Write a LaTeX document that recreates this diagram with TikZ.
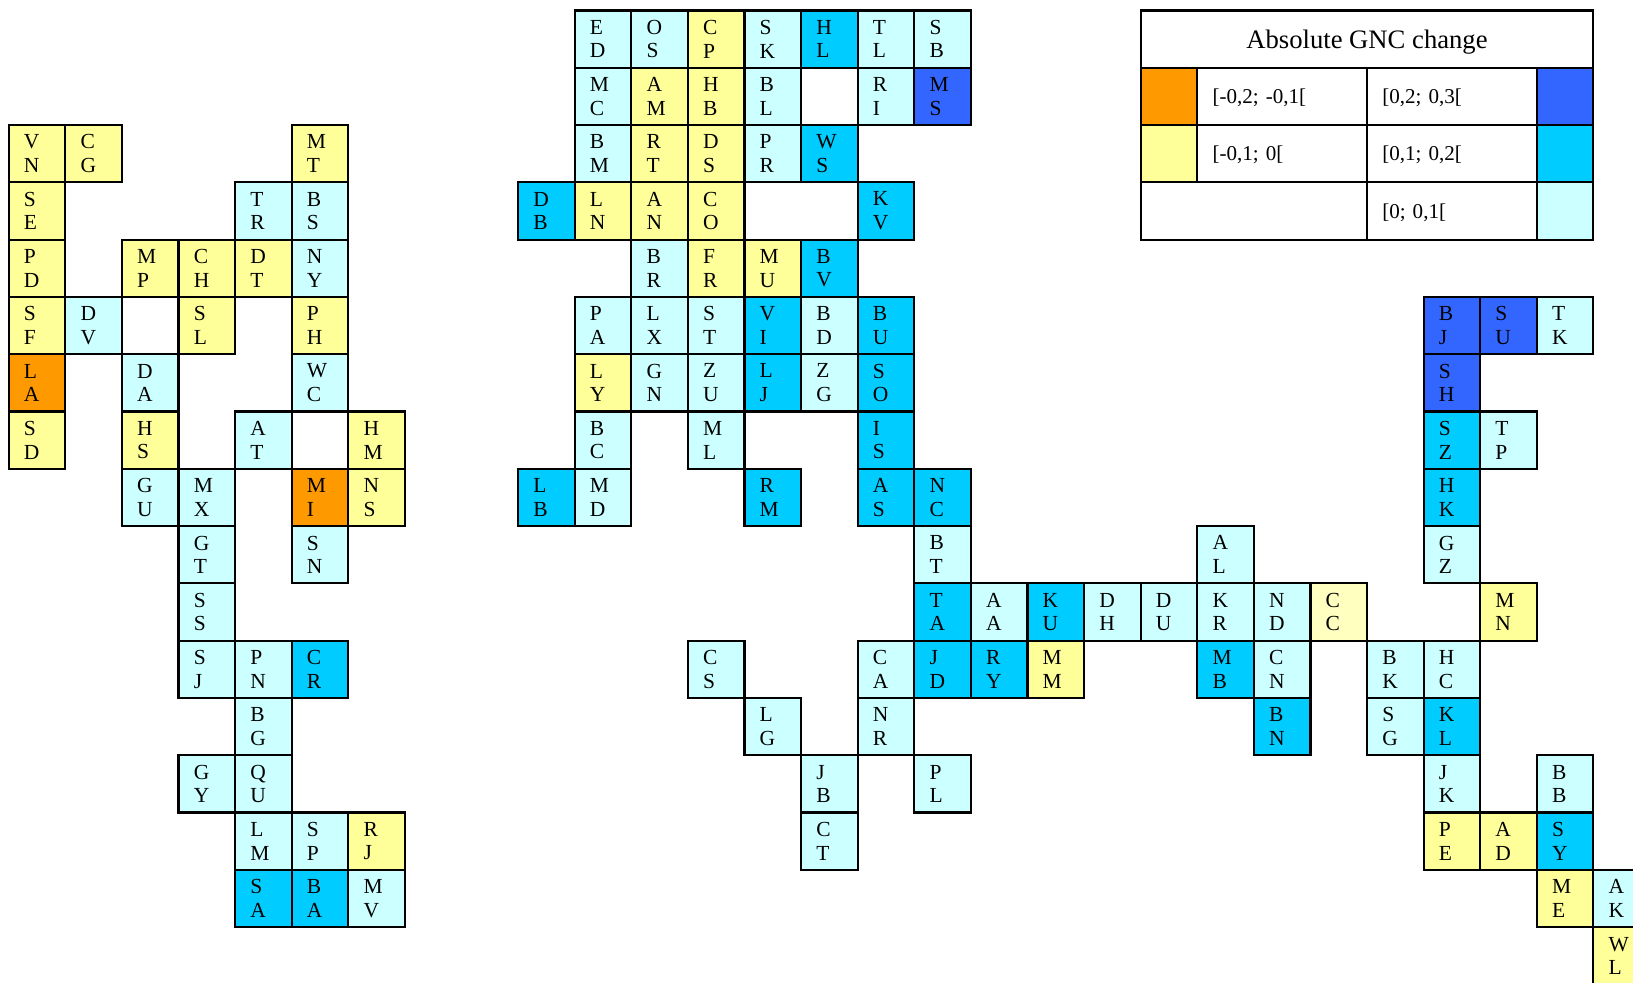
\documentclass[tikz,border=0pt]{standalone}
\usepackage{fontspec}
\setmainfont{Liberation Serif}
\definecolor{gncOrange}{HTML}{FF9900}
\definecolor{gncYellow}{HTML}{FFFF99}
\definecolor{gncPale}{HTML}{FFFFC0}
\definecolor{gncLight}{HTML}{CCFFFF}
\definecolor{gncCyan}{HTML}{00CCFF}
\definecolor{gncBlue}{HTML}{3366FF}

\begin{document}
\begin{tikzpicture}[x=1cm, y=-1.0124cm,
    cell/.style={draw, line width=1.1pt, minimum width=1cm, minimum height=1.0124cm,
      text width=0.46cm, inner xsep=0.27cm, inner ysep=0pt, align=left,
      font=\fontsize{10.8}{11.9}\selectfont},
    legbox/.style={draw, line width=1.1pt, minimum height=1.0124cm, inner xsep=0.27cm,
      inner ysep=0pt, text depth=0pt, font=\fontsize{10.6}{12}\selectfont}]
  \useasboundingbox (-0.154,-0.1815) rectangle (28.70,16.97);
  \foreach \cx/\ry/\a/\b in {1/5/D/V, 4/3/T/R, 5/3/B/S, 5/4/N/Y, 2/6/D/A, 5/6/W/C,
      4/7/A/T, 2/8/G/U, 3/8/M/X, 3/9/G/T, 5/9/S/N, 3/10/S/S, 3/11/S/J, 4/11/P/N,
      4/12/B/G, 3/13/G/Y, 4/13/Q/U, 4/14/L/M, 5/14/S/P, 6/15/M/V,
      10/0/E/D, 11/0/O/S, 13/0/S/K, 15/0/T/L, 16/0/S/B, 10/1/M/C, 13/1/B/L, 15/1/R/I,
      10/2/B/M, 13/2/P/R, 11/4/B/R, 10/5/P/A, 11/5/L/X, 12/5/S/T, 14/5/B/D,
      11/6/G/N, 12/6/Z/U, 14/6/Z/G, 10/7/B/C, 12/7/M/L, 10/8/M/D, 16/9/B/T,
      21/9/A/L, 25/9/G/Z, 17/10/A/A, 19/10/D/H, 20/10/D/U, 21/10/K/R, 22/10/N/D,
      12/11/C/S, 15/11/C/A, 22/11/C/N, 24/11/B/K, 25/11/H/C, 13/12/L/G, 15/12/N/R,
      24/12/S/G, 14/13/J/B, 16/13/P/L, 25/13/J/K, 27/13/B/B, 14/14/C/T, 28/15/A/K,
      27/5/T/K, 26/7/T/P}
    \node[cell, fill=gncLight] (\a\b) at (\cx+0.5,\ry+0.5) {\a\\\b};
  \foreach \cx/\ry/\a/\b in {0/2/V/N, 1/2/C/G, 5/2/M/T, 0/3/S/E, 0/4/P/D, 2/4/M/P,
      3/4/C/H, 4/4/D/T, 0/5/S/F, 3/5/S/L, 5/5/P/H, 0/7/S/D, 2/7/H/S, 6/7/H/M,
      6/8/N/S, 6/14/R/J, 12/0/C/P, 11/1/A/M, 12/1/H/B, 11/2/R/T, 12/2/D/S,
      10/3/L/N, 11/3/A/N, 12/3/C/O, 12/4/F/R, 13/4/M/U, 10/6/L/Y, 18/11/M/M,
      26/10/M/N, 25/14/P/E, 26/14/A/D, 27/15/M/E, 28/16/W/L}
    \node[cell, fill=gncYellow] (\a\b) at (\cx+0.5,\ry+0.5) {\a\\\b};
  \node[cell, fill=gncPale] (CC) at (23.5,10.5) {C\\C};
  \foreach \cx/\ry/\a/\b in {0/6/L/A, 5/8/M/I}
    \node[cell, fill=gncOrange] (\a\b) at (\cx+0.5,\ry+0.5) {\a\\\b};
  \foreach \cx/\ry/\a/\b in {5/11/C/R, 4/15/S/A, 5/15/B/A, 14/0/H/L, 14/2/W/S,
      9/3/D/B, 15/3/K/V, 14/4/B/V, 13/5/V/I, 15/5/B/U, 13/6/L/J, 15/6/S/O,
      15/7/I/S, 9/8/L/B, 13/8/R/M, 15/8/A/S, 16/8/N/C, 16/10/T/A, 18/10/K/U,
      16/11/J/D, 17/11/R/Y, 21/11/M/B, 22/12/B/N, 25/12/K/L, 27/14/S/Y,
      25/7/S/Z, 25/8/H/K}
    \node[cell, fill=gncCyan] (\a\b) at (\cx+0.5,\ry+0.5) {\a\\\b};
  \foreach \cx/\ry/\a/\b in {16/1/M/S, 25/5/B/J, 26/5/S/U, 25/6/S/H}
    \node[cell, fill=gncBlue] (\a\b) at (\cx+0.5,\ry+0.5) {\a\\\b};
  \node[legbox, minimum width=8cm, font=\fontsize{13.4}{15}\selectfont] (gnchead) at (24,0.5)
    {Absolute GNC change};
  \node[legbox, minimum width=1cm, fill=gncOrange] (swOrange) at (20.5,1.5) {};
  \node[legbox, text width=2.46cm, align=left] (txOrange) at (22.5,1.5) {[-0,2; -0,1[};
  \node[legbox, text width=2.46cm, align=left] (txBlue) at (25.5,1.5) {[0,2; 0,3[};
  \node[legbox, minimum width=1cm, fill=gncBlue] (swBlue) at (27.5,1.5) {};
  \node[legbox, minimum width=1cm, fill=gncYellow] (swYellow) at (20.5,2.5) {};
  \node[legbox, text width=2.46cm, align=left] (txYellow) at (22.5,2.5) {[-0,1; 0[};
  \node[legbox, text width=2.46cm, align=left] (txCyan) at (25.5,2.5) {[0,1; 0,2[};
  \node[legbox, minimum width=1cm, fill=gncCyan] (swCyan) at (27.5,2.5) {};
  \node[legbox, minimum width=4cm] (legEmpty) at (22,3.5) {};
  \node[legbox, text width=2.46cm, align=left] (txLight) at (25.5,3.5) {[0; 0,1[};
  \node[legbox, minimum width=1cm, fill=gncLight] (swLight) at (27.5,3.5) {};
\end{tikzpicture}
\end{document}
